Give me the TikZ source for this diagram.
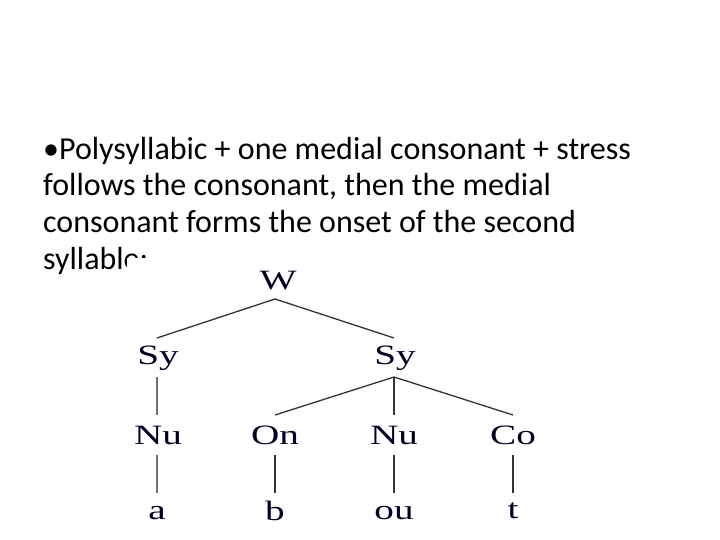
\documentclass[tikz,border=0pt]{standalone}
\usepackage{fontspec}
\setmainfont{Carlito}
\newfontfamily\treefont{Liberation Serif}
\begin{document}
\begin{tikzpicture}[x=1pt,y=-1pt,
  txt/.style={anchor=base west,inner sep=0pt,font=\fontsize{32}{36}\selectfont},
  lab/.style={inner sep=0pt,text=black!85!blue,font=\treefont\fontsize{28}{28}\selectfont},
  br/.style={line width=1.3pt,draw=black!80}]
\useasboundingbox[fill=white] (0,0) rectangle (720,540);
\node[txt] (l1) at (43,160) {•Polysyllabic + one medial consonant + stress};
\node[txt] (l2) at (43,196) {follows the consonant, then the medial};
\node[txt] (l3) at (43,233) {consonant forms the onset of the second};
\node[txt] (l4) at (43,269) {syllable:};
\fill[white] (127,258) rectangle (560,530);
\node[lab] (w) at (278,281) {\scalebox{1.4}[1]{W}};
\node[lab] (sy1) at (158,358) {\scalebox{1.4}[1]{Sy}};
\node[lab] (sy2) at (395,358) {\scalebox{1.4}[1]{Sy}};
\node[lab] (nu1) at (158,435) {\scalebox{1.4}[1]{Nu}};
\node[lab] (on) at (275,435) {\scalebox{1.4}[1]{On}};
\node[lab] (nu2) at (394,435) {\scalebox{1.4}[1]{Nu}};
\node[lab] (co) at (513,435) {\scalebox{1.4}[1]{Co}};
\node[lab] (a) at (157,513) {\scalebox{1.4}[1]{a}};
\node[lab] (b) at (275,511) {\scalebox{1.4}[1]{b}};
\node[lab] (ou) at (394,513) {\scalebox{1.4}[1]{ou}};
\node[lab] (t) at (513,511) {\scalebox{1.4}[1]{t}};
\coordinate (wb) at (275,299);
\coordinate (sy1t) at (157,338);
\coordinate (sy2t) at (394,338);
\draw[br] (sy1t) -- (wb) -- (sy2t);
\coordinate (sy2b) at (394,377);
\draw[br] (275,415) -- (sy2b) -- (513,415);
\draw[br] (sy2b) -- (394,415);
\draw[br,draw=black!55] (157,377) -- (157,415);
\draw[br,draw=black!55] (157,455) -- (157,493);
\draw[br] (275,455) -- (275,493);
\draw[br] (394,455) -- (394,493);
\draw[br] (513,455) -- (513,493);
\end{tikzpicture}
\end{document}
